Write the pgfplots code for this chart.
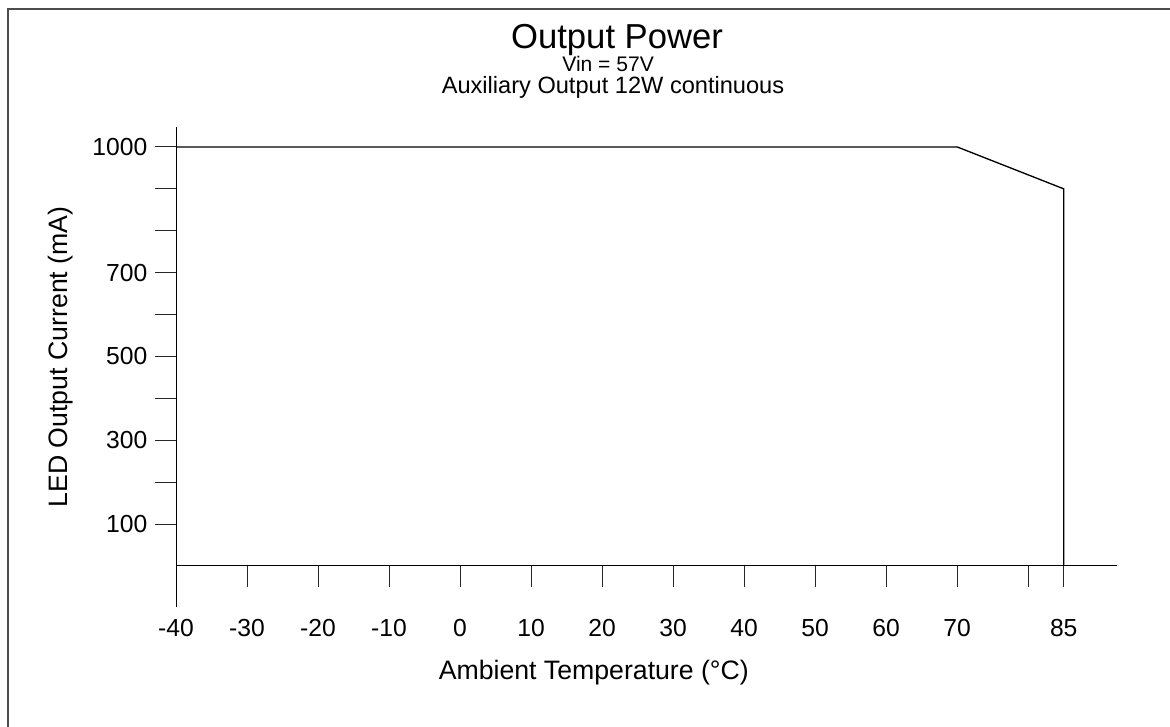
\documentclass[border=0pt]{standalone}
\usepackage{fontspec}
\setmainfont{Liberation Sans}
\usepackage{pgfplots}
\pgfplotsset{compat=1.18}
\begin{document}
\begin{tikzpicture}
\useasboundingbox (0,0) rectangle (877.5pt,-545.25pt);
\draw[line width=1pt, black!70] (6pt,-545.25pt) -- (6pt,-6.75pt) -- (877.5pt,-6.75pt);
\begin{axis}[
  at={(132pt,-455.25pt)}, anchor=south west,
  scale only axis, width=705.75pt, height=360pt,
  xmin=-40, xmax=92.5, ymin=-98, ymax=1047.6,
  axis x line=middle, axis y line=left,
  axis line style={-, line width=0.75pt, black},
  hide obscured x ticks=false, hide obscured y ticks=false,
  tick align=outside,
  major tick length=15.75pt,
  tick style={line width=0.75pt, black!85},
  xtick={-40,-30,-20,-10,0,10,20,30,40,50,60,70,80,85},
  xticklabels={-40,-30,-20,-10,0,10,20,30,40,50,60,70,,85},
  ytick={100,200,300,400,500,600,700,800,900,1000},
  yticklabels={100,,300,,500,,700,,,1000},
  ticklabel style={font=\fontsize{18.5pt}{22pt}\selectfont},
  xticklabel style={anchor=base, yshift=-37.5pt},
  yticklabel style={anchor=east, xshift=-2.25pt},
  xlabel={Ambient Temperature (°C)},
  ylabel={LED Output Current (mA)},
  x label style={at={(axis description cs:0.444,-0.15)}, anchor=base, font=\fontsize{20pt}{24pt}\selectfont},
  y label style={at={(axis description cs:-0.1148,0.521)}, anchor=base, font=\fontsize{20pt}{24pt}\selectfont},
  clip=false,
]
\addplot[black, line width=1pt] coordinates {(-40,1000) (70,1000) (85,900) (85,0)};
\node[anchor=base, inner sep=0pt, font=\fontsize{26pt}{31pt}\selectfont] at (axis description cs:0.4687,1.1625) {Output Power};
\node[anchor=base, inner sep=0pt, font=\fontsize{15.8pt}{19pt}\selectfont] at (axis description cs:0.4592,1.1146) {Vin = 57V};
\node[anchor=base, inner sep=0pt, font=\fontsize{17.7pt}{21pt}\selectfont] at (axis description cs:0.4644,1.0688) {Auxiliary Output 12W continuous};
\end{axis}
\end{tikzpicture}
\end{document}
